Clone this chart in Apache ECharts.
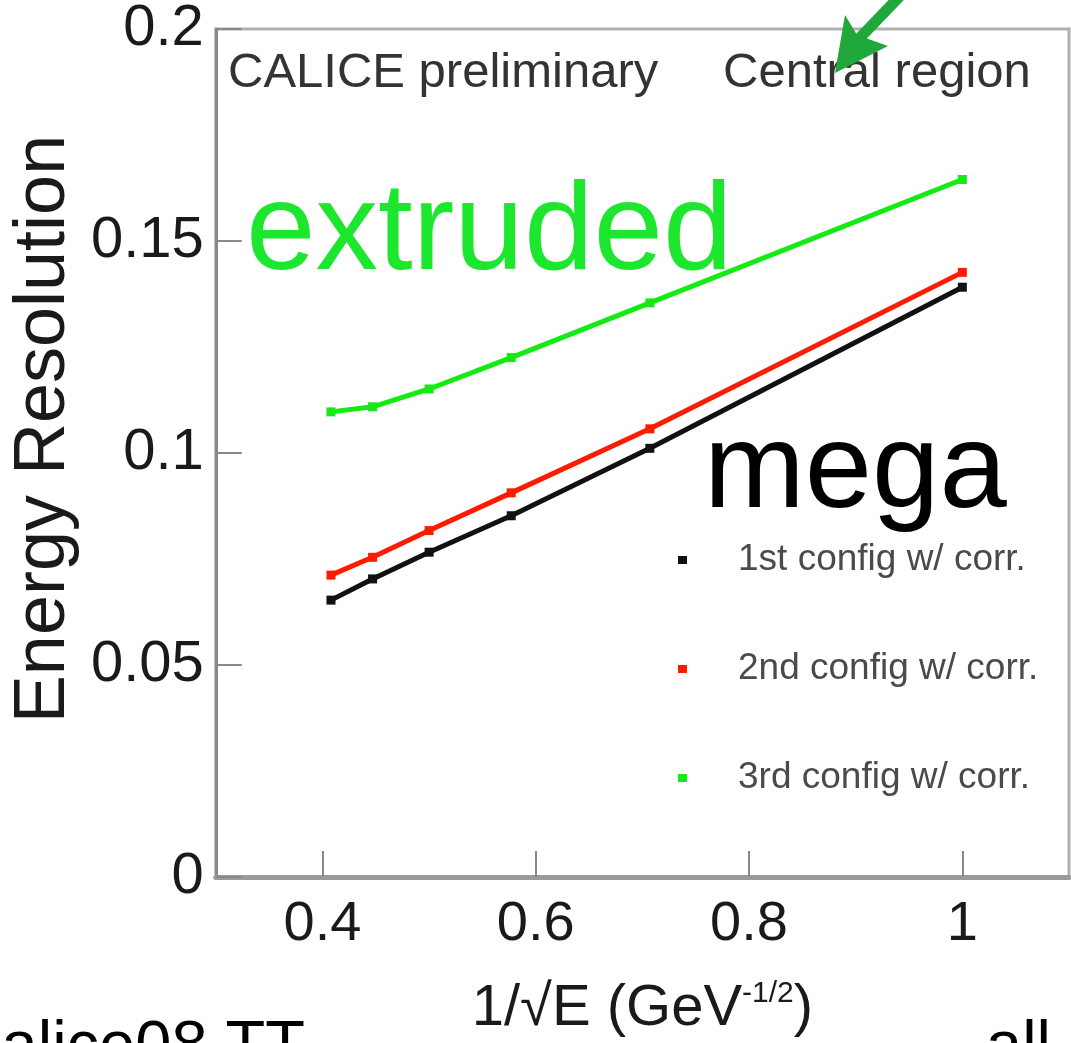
<!DOCTYPE html>
<html>
<head>
<meta charset="utf-8">
<script src="https://cdn.jsdelivr.net/npm/echarts@6/dist/echarts.min.js"></script>
<style>
html,body{margin:0;padding:0;background:#fff;}
#chart{width:1071px;height:1043px;}
</style>
</head>
<body>
<div id="chart"></div>
<script>
// x values: 1/sqrt(E)
var xValues = [0.408, 0.447, 0.5, 0.577, 0.707, 1.0];
var config1 = [0.0653, 0.0703, 0.0766, 0.0852, 0.1011, 0.1391];
var config2 = [0.0712, 0.0754, 0.0817, 0.0906, 0.1057, 0.1426];
var config3 = [0.1097, 0.1109, 0.1151, 0.1225, 0.1354, 0.1645];
var seriesNames = ['1st config w/ corr.', '2nd config w/ corr.', '3rd config w/ corr.'];
var seriesColors = ['#111111', '#ff1a00', '#14ea14'];
var xTicks = [0.4, 0.6, 0.8, 1.0];

var FONT = '"Liberation Sans", Arial, Helvetica, sans-serif';

function pairs(ys) {
  return xValues.map(function (x, i) { return [x, ys[i]]; });
}
var allY = [config1, config2, config3];

var chart = echarts.init(document.getElementById('chart'), null, {renderer: 'canvas'});
var option = {
  animation: false,
  backgroundColor: '#ffffff',
  grid: {
    left: 215, right: 2, top: 26, bottom: 160,
    show: true, borderColor: '#b0b0b0', borderWidth: 3, backgroundColor: 'transparent'
  },
  xAxis: {
    type: 'value', min: 0.3, max: 1.1,
    name: '{a|1/√E (GeV}{s|-1/2}{a|)}',
    nameLocation: 'middle', nameGap: 102,
    nameTextStyle: {
      rich: {
        a: {fontFamily: FONT, fontSize: 58, color: '#1a1a1a', lineHeight: 60},
        s: {fontFamily: FONT, fontSize: 30, color: '#1a1a1a', verticalAlign: 'top', lineHeight: 60}
      }
    },
    axisLine: {show: true, onZero: false, lineStyle: {color: '#9a9a9a', width: 5}},
    axisTick: {show: true, inside: true, length: 26, customValues: xTicks, lineStyle: {color: '#888', width: 2}},
    axisLabel: {customValues: xTicks, fontFamily: FONT, fontSize: 56, color: '#1a1a1a', margin: 20},
    splitLine: {show: false}
  },
  yAxis: {
    type: 'value', min: 0, max: 0.2, interval: 0.05,
    name: 'Energy Resolution',
    nameLocation: 'middle', nameGap: 118,
    nameTextStyle: {fontFamily: FONT, fontSize: 72, color: '#1a1a1a', padding: [0, 0, 0, 48]},
    axisLine: {show: true, onZero: false, lineStyle: {color: '#888', width: 3}},
    axisTick: {show: true, inside: true, length: 26, lineStyle: {color: '#888', width: 2}},
    axisLabel: {fontFamily: FONT, fontSize: 58, color: '#1a1a1a', margin: 12, padding: [10, 0, 0, 0]},
    splitLine: {show: false}
  },
  legend: {
    orient: 'vertical', left: 673, top: 535,
    icon: 'rect', itemWidth: 9, itemHeight: 8, itemGap: 69,
    data: seriesNames,
    textStyle: {fontFamily: FONT, fontSize: 37, color: '#4a4a4a', lineHeight: 40, padding: [0, 0, 0, 46]}
  },
  series: seriesNames.map(function (n, i) {
    return {
      name: n, type: 'line', data: pairs(allY[i]),
      symbol: 'rect', symbolSize: 9,
      itemStyle: {color: seriesColors[i]},
      lineStyle: {color: seriesColors[i], width: 5},
      z: 3 + i
    };
  }),
  graphic: [
    {type: 'text', left: 228, top: 49, style: {text: 'CALICE preliminary', fontFamily: FONT, fontSize: 49, fill: '#333'}},
    {type: 'text', left: 723, top: 49, style: {text: 'Central region', fontFamily: FONT, fontSize: 49, fill: '#333'}},
    {type: 'text', left: 246, top: 172, style: {text: 'extruded', fontFamily: FONT, fontSize: 125, fill: '#1de62e'}},
    {type: 'text', left: 704, top: 413, style: {text: 'mega', fontFamily: FONT, fontSize: 121, fill: '#000'}},
    {type: 'text', x: 305, y: 1016, style: {text: 'calice08 TT', fontFamily: FONT, fontSize: 65, fill: '#000', textAlign: 'right', textVerticalAlign: 'top'}},
    {type: 'text', x: 986, y: 1016, style: {text: 'all', fontFamily: FONT, fontSize: 65, fill: '#000', textVerticalAlign: 'top'}},
    {type: 'polyline', shape: {points: [[902, -6], [852, 46]]}, style: {stroke: '#20a83a', lineWidth: 11}, z: 100},
    {type: 'polygon', shape: {points: [[835, 73], [845, 15], [857, 35], [888, 46]]}, style: {fill: '#20a83a'}, z: 101}
  ]
};
chart.setOption(option);
</script>
</body>
</html>
